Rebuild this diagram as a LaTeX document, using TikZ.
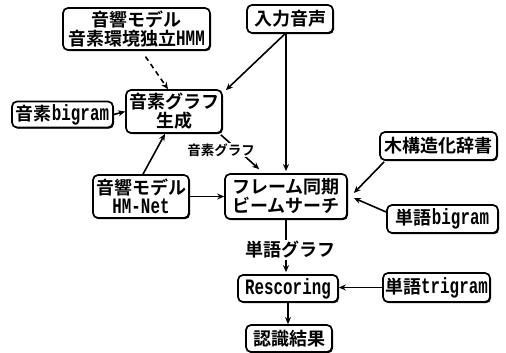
\documentclass[tikz,border=0pt]{standalone}
\usepackage{fontspec}
\usetikzlibrary{arrows.meta,calc,shadows}
\newfontfamily\jpfont{Noto Sans CJK JP Bold}
\newfontfamily\latfont{Liberation Mono Bold}[FakeStretch=0.72]
\newcommand\LatTxt[1]{{\latfont\fontsize{22}{19}\selectfont #1}}
\tikzset{
  box/.style={draw, line width=1.7pt, rounded corners=5pt, fill=white, inner sep=0pt,
    align=center, font=\jpfont\fontsize{18}{19}\selectfont,
    drop shadow={shadow xshift=1pt, shadow yshift=-1.2pt, fill=black, opacity=1}},
  arr/.style={line width=1.6pt, -{Stealth[length=7pt,width=6pt]}},
  lbl/.style={fill=white, inner sep=1pt, font=\jpfont\fontsize{18}{19}\selectfont},
  slbl/.style={fill=white, inner sep=1pt, font=\jpfont\fontsize{13.5}{15}\selectfont}
}
\begin{document}
\begin{tikzpicture}[x=1pt,y=-1pt]
\useasboundingbox (0,0) rectangle (506,353);
\node[box, minimum width=147pt, minimum height=42pt] (hmm) at (136.5,29) {音響モデル\\音素環境独立\LatTxt{HMM}};
\node[box, minimum width=86pt, minimum height=28pt] (in) at (290,19) {入力音声};
\node[box, minimum width=101pt, minimum height=26pt] (pb) at (62.5,114.5) {音素\LatTxt{bigram}};
\node[box, minimum width=96pt, minimum height=43pt] (pg) at (174,111.5) {音素グラフ\\生成};
\node[box, minimum width=117pt, minimum height=28pt] (tree) at (438.5,146) {木構造化辞書};
\node[box, minimum width=96pt, minimum height=43pt] (hmnet) at (141,196.5) {音響モデル\\\LatTxt{HM-Net}};
\node[box, minimum width=122pt, minimum height=45pt] (beam) at (286,196.5) {フレーム同期\\ビームサーチ};
\node[box, minimum width=111pt, minimum height=28pt] (wb) at (442.5,219) {単語\LatTxt{bigram}};
\node[box, minimum width=100pt, minimum height=27pt] (resc) at (288,288.5) {\LatTxt{Rescoring}};
\node[box, minimum width=107pt, minimum height=29pt] (tri) at (436.5,287.5) {単語\LatTxt{trigram}};
\node[box, minimum width=86pt, minimum height=27pt] (res) at (289,338.5) {認識結果};

\draw[arr, dash pattern=on 5pt off 4pt, shorten <=7pt] ([xshift=5pt]hmm.south) -- ([xshift=-6pt]pg.north);
\draw[arr] ([xshift=-5pt]in.south) -- ($(pg.north east)+(3,1)$);
\draw[arr] (in.south -| beam.north) -- ([yshift=2pt]beam.north);
\draw[arr] (pb.east) -- (pg.west);
\draw[arr] ([xshift=2pt]hmnet.north) -- ([xshift=-9pt]pg.south);
\draw[arr] (hmnet.east) -- (beam.west);
\draw[arr] ($(pg.south east)+(-2,1)$) -- ($(beam.north west)+(35,-4)$);
\node[slbl] (lpg) at (221,150) {音素グラフ};
\draw[arr] ($(tree.south west)+(5,1)$) -- ($(beam.east)+(6,-3.5)$);
\draw[arr] ($(wb.west)+(0,-7)$) -- ($(beam.east)+(6,1.5)$);
\draw[arr] (beam.south) -- ([yshift=2pt]beam.south |- resc.north);
\node[lbl] (lwg) at (290,250) {単語グラフ};
\draw[arr] (tri.west) -- (tri.west -| resc.east);
\draw[arr] (resc.south) -- (resc.south |- res.north);
\end{tikzpicture}
\end{document}
